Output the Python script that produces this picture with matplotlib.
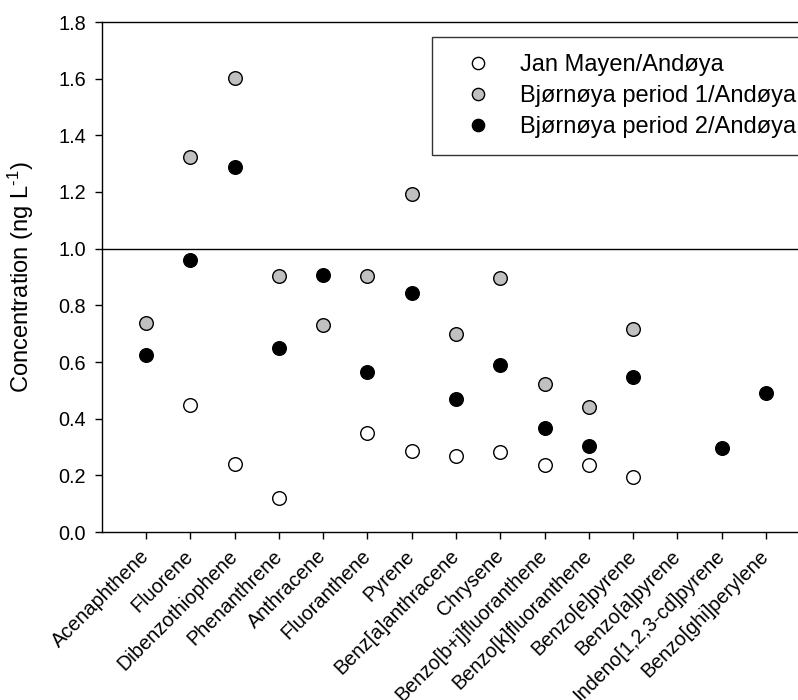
import numpy as np
import matplotlib
matplotlib.use("Agg")
import matplotlib.pyplot as plt

plt.rcParams['font.family'] = ['Liberation Sans', 'DejaVu Sans']
plt.rcParams['mathtext.fontset'] = 'custom'
plt.rcParams['mathtext.rm'] = 'Liberation Sans'
plt.rcParams['mathtext.it'] = 'Liberation Sans:italic'

compounds = ["Acenaphthene", "Fluorene", "Dibenzothiophene", "Phenanthrene",
             "Anthracene", "Fluoranthene", "Pyrene", "Benz[a]anthracene",
             "Chrysene", "Benzo[b+j]fluoranthene", "Benzo[k]fluoranthene",
             "Benzo[e]pyrene", "Benzo[a]pyrene", "Indeno[1,2,3-cd]pyrene",
             "Benzo[ghi]perylene"]
nan = np.nan
jan_mayen = [nan, 0.448, 0.240, 0.120, nan, 0.350, 0.287, 0.270, 0.284,
             0.235, 0.236, 0.195, nan, nan, nan]
bjornoya_p1 = [0.738, 1.324, 1.604, 0.903, 0.731, 0.903, 1.192, 0.698, 0.895,
               0.523, 0.441, 0.716, nan, nan, nan]
bjornoya_p2 = [0.624, 0.960, 1.289, 0.651, 0.906, 0.566, 0.842, 0.470, 0.590,
               0.366, 0.304, 0.547, nan, 0.298, 0.489]
series_labels = ["Jan Mayen/Andøya", "Bjørnøya period 1/Andøya",
                 "Bjørnøya period 2/Andøya"]
yticks = [0.0, 0.2, 0.4, 0.6, 0.8, 1.0, 1.2, 1.4, 1.6, 1.8]

fig = plt.figure(figsize=(7.98, 7.0), dpi=100)
ax = fig.add_axes([101.7 / 798, 168 / 700, 708.6 / 798, 510 / 700])

x = np.arange(1, len(compounds) + 1)
ax.axhline(1.0, color='black', lw=1.0, zorder=1)
styles = [('white', jan_mayen), ('#c0c0c0', bjornoya_p1), ('black', bjornoya_p2)]
for (fc, vals), lab in zip(styles, series_labels):
    ax.plot(x, vals, linestyle='none', marker='o', markersize=9.8,
            markerfacecolor=fc, markeredgecolor='black', markeredgewidth=1.0,
            label=lab, zorder=3)

ax.set_xlim(0, 16)
ax.set_ylim(0, 1.8)
ax.set_yticks(yticks)
ax.set_yticklabels([f"{v:.1f}" for v in yticks])
ax.set_xticks(x)
ax.set_xticklabels(compounds, rotation=45, ha='right', va='center',
                   rotation_mode='anchor')
ax.tick_params(axis='both', direction='out', length=5.3, width=1.0,
               labelsize=14.3, color='black')
ax.tick_params(axis='y', pad=6)
ax.tick_params(axis='x', pad=10)
for s in ax.spines.values():
    s.set_linewidth(1.0)
ax.set_ylabel("Concentration (ng L$^{\\mathregular{\u2010}1}$)", fontsize=17)
ax.yaxis.set_label_coords(-0.093, 0.5)

leg = ax.legend(loc='upper left', bbox_to_anchor=(0.466, 0.9706),
                borderaxespad=0, frameon=True, fancybox=False,
                fontsize=17, handlelength=2.46, handletextpad=0.55,
                labelspacing=0.38, borderpad=0.72, markerscale=0.9)
leg.get_frame().set_edgecolor('black')
leg.get_frame().set_linewidth(1.0)

fig.savefig("out.png", dpi=100)
